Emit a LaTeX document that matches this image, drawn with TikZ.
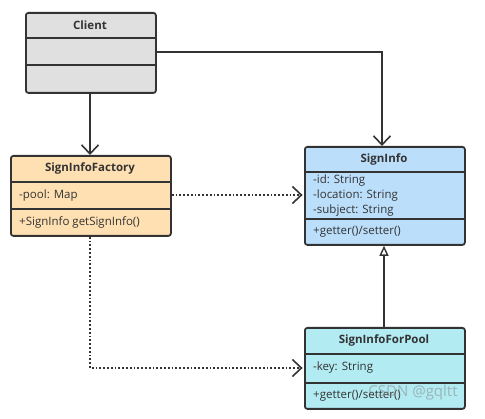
\documentclass[tikz,border=0pt]{standalone}
\usepackage{fontspec}
\setmainfont{Open Sans}
\usetikzlibrary{arrows.meta,positioning}

\definecolor{clientfill}{HTML}{E0E0E0}
\definecolor{factoryfill}{HTML}{FFE0B2}
\definecolor{infofill}{HTML}{BBDEFB}
\definecolor{poolfill}{HTML}{B2EBF2}
\definecolor{umlline}{HTML}{333333}

\tikzset{
    cls/.style={draw=umlline, line width=1.8pt, rounded corners=2.5pt, anchor=north west, inner sep=0pt},
    clsname/.style={font=\fontsize{11.5}{13}\selectfont\bfseries, text=umlline},
    member/.style={font=\fontsize{11.5}{13}\selectfont, text=umlline, anchor=west, inner sep=0pt, align=left},
    sep/.style={draw=umlline, line width=1.8pt},
    assoc/.style={draw=umlline, line width=1.8pt, -{Straight Barb[length=9pt, width=17pt, line width=1.6pt]}},
    depend/.style={draw=umlline, line width=1.8pt, dotted, -{Straight Barb[length=9pt, width=17pt, line width=1.6pt, sep]}},
    inherit/.style={draw=umlline, line width=1.8pt, -{Triangle[open, length=10pt, width=9pt, line width=1.4pt]}},
}

\begin{document}
\begin{tikzpicture}[x=1pt, y=-1pt]
    \useasboundingbox (0,0) rectangle (485,419);

    % Client
    \node[cls, fill=clientfill, minimum width=130pt, minimum height=80pt] (client) at (25,12) {};
    \node[clsname] (clientname) at (90,25) {Client};
    \draw[sep] (client.west |- 0,38) -- (client.east |- 0,38);
    \draw[sep] (client.west |- 0,65) -- (client.east |- 0,65);

    % SignInfoFactory
    \node[cls, fill=factoryfill, minimum width=160pt, minimum height=80pt] (factory) at (10,155) {};
    \node[clsname] (factoryname) at (90,168.5) {SignInfoFactory};
    \draw[sep] (factory.west |- 0,182) -- (factory.east |- 0,182);
    \node[member] (pool) at (19,195.5) {-pool: Map};
    \draw[sep] (factory.west |- 0,209) -- (factory.east |- 0,209);
    \node[member] (getsign) at (19,222) {+SignInfo getSignInfo()};

    % SignInfo
    \node[cls, fill=infofill, minimum width=160pt, minimum height=98pt] (info) at (304,146) {};
    \node[clsname] (infoname) at (384,159.5) {SignInfo};
    \draw[sep] (info.west |- 0,172) -- (info.east |- 0,172);
    \node[member] (id) at (313,181) {-id: String};
    \node[member] (location) at (313,196) {-location: String};
    \node[member] (subject) at (313,211) {-subject: String};
    \draw[sep] (info.west |- 0,219) -- (info.east |- 0,219);
    \node[member] (infoget) at (313,232) {+getter()/setter()};

    % SignInfoForPool
    \node[cls, fill=poolfill, minimum width=160pt, minimum height=81pt] (forpool) at (304,327) {};
    \node[clsname] (forpoolname) at (384,340.5) {SignInfoForPool};
    \draw[sep] (forpool.west |- 0,354) -- (forpool.east |- 0,354);
    \node[member] (key) at (313,368) {-key: String};
    \draw[sep] (forpool.west |- 0,383) -- (forpool.east |- 0,383);
    \node[member] (poolget) at (313,396) {+getter()/setter()};

    % connectors
    \draw[assoc] (client.south -| 90,0) -- (factory.north -| 90,0);
    \draw[assoc] (client.east |- 0,52) -| (info.north -| 382,0);
    \draw[depend] (factory.east |- 0,195) -- (info.west |- 0,195);
    \draw[depend] (factory.south -| 90,0) |- (forpool.west |- 0,368);
    \draw[inherit] (forpool.north -| 384,0) -- (info.south -| 384,0);

    % watermark
    \node[font=\fontsize{15}{17}\selectfont, text=gray, opacity=0.5] (mark) at (413,393) {CSDN @gqltt};
\end{tikzpicture}
\end{document}
